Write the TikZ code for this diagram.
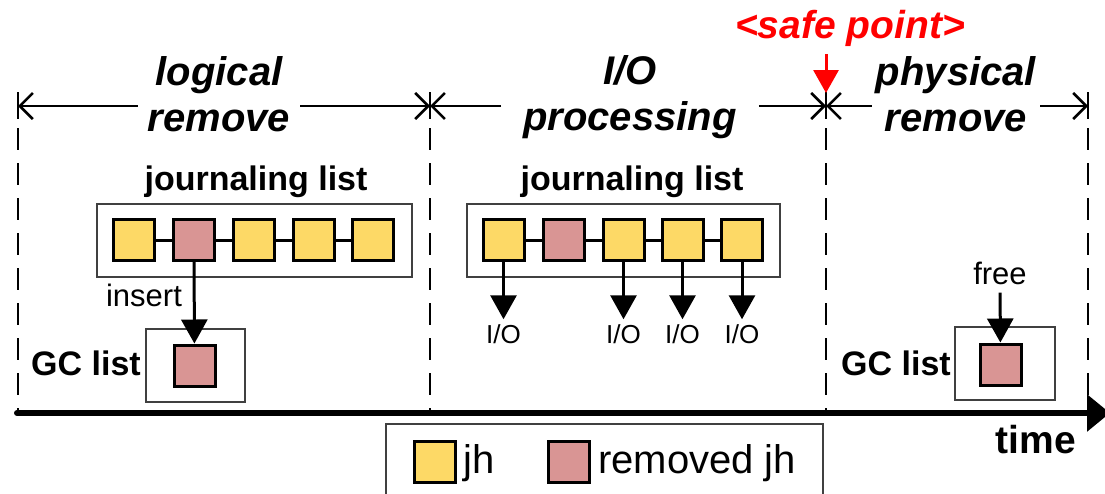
\documentclass[tikz,border=0pt]{standalone}
\usepackage{fontspec}
\setmainfont{Liberation Sans}
\usetikzlibrary{arrows.meta}
\definecolor{jhyellow}{RGB}{253,217,102}
\definecolor{jhred}{RGB}{217,149,148}

\begin{document}
\begin{tikzpicture}[x=1pt,y=-1pt,
  jh/.style={draw=black, line width=3pt, fill=jhyellow, minimum size=41pt, inner sep=0pt},
  rjh/.style={jh, fill=jhred},
  listbox/.style={draw=black!75, line width=1.6pt, inner sep=0pt},
  phase/.style={font=\fontsize{40}{46}\selectfont\bfseries\itshape, align=center, inner ysep=0pt},
  heading/.style={font=\fontsize{34}{40}\selectfont\bfseries, inner sep=0pt},
  note/.style={font=\fontsize{31}{36}\selectfont, inner sep=0pt},
  iolabel/.style={font=\fontsize{26}{30}\selectfont, inner sep=0pt},
  legendtext/.style={font=\fontsize{40}{44}\selectfont, inner sep=0pt, anchor=west},
  span/.style={line width=2.6pt, -{Straight Barb[length=13pt,width=26pt,line width=2.6pt]}},
  tick/.style={line width=2.6pt},
  boundary/.style={line width=2.8pt, dash pattern=on 22pt off 13pt},
  link/.style={line width=3pt},
  down/.style={line width=3pt, -{Triangle[length=24pt,width=26pt]}},
]
\useasboundingbox (0,0) rectangle (1105,493);

% phase boundaries on the time line
\coordinate (b0) at (18,106);
\coordinate (b1) at (430,106);
\coordinate (b2) at (826,106);
\coordinate (b3) at (1088,106);
\coordinate (t0) at (17,413);
\coordinate (t1) at (1110,413);

% phase titles
\node[phase, inner xsep=10pt] (lr) at (219,94) {logical\\remove};
\node[phase, inner xsep=22pt] (pr) at (630,97.5) {I/O\\processing};
\node[phase, inner xsep=4pt] (ph) at (956,94) {physical\\remove};

% span arrows between the boundaries
\draw[span] (lr.west |- b0) -- (b0);
\draw[span] (lr.east |- b0) -- (b1);
\draw[span] (pr.west |- b0) -- (b1);
\draw[span] (pr.east |- b0) -- (b2);
\draw[span] (ph.west |- b0) -- (b2);
\draw[span] (ph.east |- b0) -- (b3);
\foreach \b in {b0,b1,b2,b3}
  \draw[tick] ([yshift=14pt]\b) -- ([yshift=-13pt]\b);

% dashed phase boundaries
\foreach \b in {b0,b1,b2,b3}
  \draw[boundary] ([yshift=-22pt]\b) -- (\b |- 0,410);

% time axis
\draw[line width=6pt, line cap=round, -{Triangle[length=23pt,width=36pt]}] (t0) -- (t1);
\node[font=\fontsize{39}{44}\selectfont\bfseries, inner sep=0pt] (time) at (1036,440) {time};

% safe point marker
\node[font=\fontsize{39}{42}\selectfont\bfseries\itshape, text=red, inner sep=0pt] (sp) at (850,28) {<safe point>};
\draw[red, line width=3pt, shorten <=8pt, -{Triangle[length=23pt,width=25pt]}] (b2 |- sp.south) -- ([yshift=13pt]b2);

% journaling list during logical remove
\node[heading] (jt1) at (256,182) {journaling list};
\node[listbox, minimum width=315pt, minimum height=73pt] (jl1) at (254.5,240.5) {};
\node[jh]  (a1) at (134,240) {};
\node[rjh] (a2) at (194,240) {};
\node[jh]  (a3) at (254,240) {};
\node[jh]  (a4) at (314,240) {};
\node[jh]  (a5) at (373,240) {};
\draw[link] (a1) -- (a2);
\draw[link] (a2) -- (a3);
\draw[link] (a3) -- (a4);
\draw[link] (a4) -- (a5);

% GC list during logical remove
\node[listbox, minimum width=99pt, minimum height=73pt] (gc1) at (195.5,365.5) {};
\node[rjh] (g1) at (194.5,365.5) {};
\node[heading, anchor=east] (gct1) at (141,363.5) {GC list};
\draw[down] (a2) -- (g1);
\node[note] (ins) at (144,295) {insert};

% journaling list during I/O processing
\node[heading] (jt2) at (632,182) {journaling list};
\node[listbox, minimum width=313pt, minimum height=73pt] (jl2) at (623.5,240.5) {};
\node[jh]  (c1) at (503.5,240) {};
\node[rjh] (c2) at (563.5,240) {};
\node[jh]  (c3) at (623.5,240) {};
\node[jh]  (c4) at (682.5,240) {};
\node[jh]  (c5) at (742,240) {};
\draw[link] (c1) -- (c2);
\draw[link] (c2) -- (c3);
\draw[link] (c3) -- (c4);
\draw[link] (c4) -- (c5);
\node[iolabel] (io1) at (503.5,334) {I/O};
\node[iolabel] (io3) at (623.5,334) {I/O};
\node[iolabel] (io4) at (682.5,334) {I/O};
\node[iolabel] (io5) at (742,334) {I/O};
\draw[down, shorten >=5pt] (c1) -- (io1);
\draw[down, shorten >=5pt] (c3) -- (io3);
\draw[down, shorten >=5pt] (c4) -- (io4);
\draw[down, shorten >=5pt] (c5) -- (io5);

% GC list during physical remove
\node[listbox, minimum width=100pt, minimum height=73pt] (gc2) at (1005,363.5) {};
\node[rjh] (g2) at (1000.5,364.5) {};
\node[heading, anchor=east] (gct2) at (951,363.5) {GC list};
\node[note] (fr) at (1000,273) {free};
\draw[down, shorten <=8pt] (fr) -- (g2);

% legend
\node[listbox, minimum width=437pt, minimum height=80pt, anchor=north west] (lg) at (385,423) {};
\node[jh]  (ly) at (434.5,461.5) {};
\node[legendtext] (lyt) at (463,463.5) {jh};
\node[rjh] (lr2) at (568.5,461.5) {};
\node[legendtext] (lrt) at (598,463.5) {removed jh};
\end{tikzpicture}
\end{document}
